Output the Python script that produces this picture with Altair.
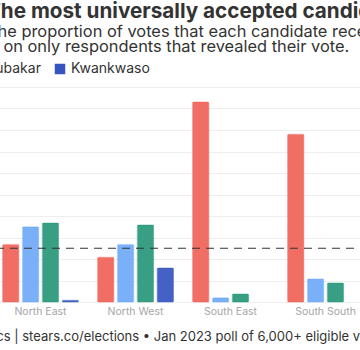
import altair as alt
import pandas as pd

regions = ["North Central", "North East", "North West", "South East", "South South", "South West"]
candidates = ["Obi", "Tinubu", "Abubakar", "Kwankwaso"]
colors = ["#EF6257", "#6EA9F7", "#27977A", "#3654C0"]

obi = [45.0, 26.8, 20.8, 93.0, 78.0, 30.0]
tinubu = [25.0, 35.0, 26.8, 2.0, 10.7, 55.0]
abubakar = [22.0, 36.7, 35.8, 3.7, 8.8, 12.0]
kwankwaso = [8.0, 0.8, 15.8, 0.0, 0.0, 1.0]

series = {"Obi": obi, "Tinubu": tinubu, "Abubakar": abubakar, "Kwankwaso": kwankwaso}
rows = []
for c in candidates:
    for r, v in zip(regions, series[c]):
        rows.append({"region": r, "candidate": c, "share": v})
df = pd.DataFrame(rows)

baseline_share = [25]
ref = pd.DataFrame({"share": baseline_share})

FONT = "Inter"
cand_scale = alt.Scale(domain=candidates, range=colors)

bars = alt.Chart(df).transform_filter(
    alt.datum.share > 0
).mark_bar(
    fillOpacity=0.92, strokeOpacity=0.45, strokeWidth=1, cornerRadius=1
).encode(
    x=alt.X("region:N", sort=regions,
            scale=alt.Scale(domain=regions, range=[-102, 468], paddingInner=0.2, paddingOuter=0.1),
            axis=alt.Axis(title="Source: Stears Data & Analytics | stears.co/elections \u2022 Jan 2023 poll of 6,000+ eligible voters",
                          titleX=-184, titleY=28, titleAlign="left", titleAnchor="start",
                          titleFont=FONT, titleFontSize=13, titleFontWeight="normal", titleColor="#333333",
                          labelFont=FONT, labelFontSize=10.5, labelColor="#a6a6a6", labelPadding=4,
                          ticks=False, domain=False, labelAngle=0)),
    xOffset=alt.XOffset("candidate:N", sort=candidates,
                        scale=alt.Scale(domain=candidates, paddingInner=0.18)),
    y=alt.Y("share:Q", scale=alt.Scale(domain=[0, 100]),
            axis=alt.Axis(title=None, labels=False, ticks=False, domain=False,
                          tickCount=10, gridColor="#eeeeee", gridWidth=1)),
    color=alt.Color("candidate:N", sort=candidates, scale=cand_scale,
                    legend=alt.Legend(title=None, orient="none", direction="horizontal",
                                      legendX=-170, legendY=-25, symbolType="square",
                                      symbolSize=110, symbolStrokeWidth=0, symbolOpacity=1,
                                      labelFont=FONT, labelFontSize=14, labelColor="#333333",
                                      columnPadding=12, labelOffset=4)),
    stroke=alt.Stroke("candidate:N", sort=candidates, scale=cand_scale, legend=None),
)

rule = alt.Chart(ref).mark_rule(color="#333333", strokeDash=[8, 6], strokeWidth=1.2).encode(
    y="share:Q",
    x=alt.value(-200), x2=alt.value(600),
)

chart = alt.layer(bars, rule).properties(
    width=360, height=215,
    autosize=alt.AutoSizeParams(type="none"),
    padding={"left": 0, "top": 87, "right": 0, "bottom": 48},
    title=alt.TitleParams(
        text="The most universally accepted candidate",
        subtitle=["The proportion of votes that each candidate received by region, based",
                  "\u200b\u2003on only respondents that revealed their vote."],
        anchor="start", frame="group", dx=-13, offset=6,
        font=FONT, fontSize=20.7, fontWeight="bold", color="#333333",
        subtitleFont=FONT, subtitleFontSize=16.4, subtitleColor="#333333",
        subtitlePadding=1, subtitleLineHeight=15,
    ),
).configure_view(stroke=None)

chart.save("out.html", embed_options={"renderer": "svg", "actions": False})
